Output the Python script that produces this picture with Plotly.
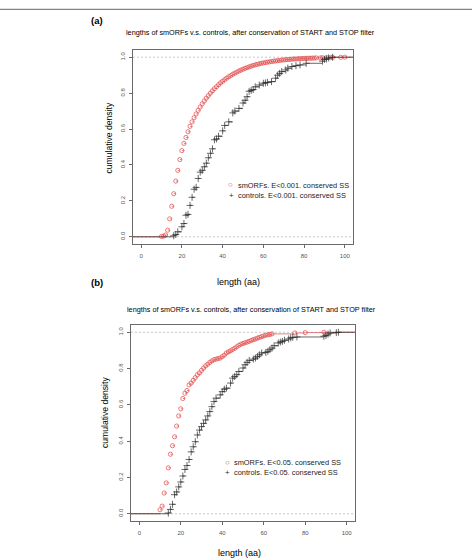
import plotly.graph_objects as go

# ---------------- data ----------------
# Panel (a): E<0.001, conserved START/STOP
sm_a_len = [10, 11, 12, 13, 14, 15, 16, 17, 18, 19, 20, 21, 22, 23, 24, 25, 26, 27, 28, 29,
            30, 31, 32, 33, 34, 35, 36, 37, 38, 39, 40, 41, 42, 43, 44, 45, 46, 47, 48, 49,
            50, 51, 52, 53, 54, 55, 56, 57, 58, 59, 60, 61, 62, 63, 64, 65, 66, 67, 68, 69,
            70, 71, 72, 73, 74, 75, 76, 77, 78, 79, 80, 81, 82, 83, 84, 85, 86, 88, 89, 91,
            93, 94, 98, 100]
sm_a_cdf = [0.002, 0.004, 0.010, 0.037, 0.100, 0.170, 0.240, 0.310, 0.370, 0.430, 0.480, 0.520,
            0.553, 0.585, 0.615, 0.640, 0.663, 0.684, 0.704, 0.723, 0.741, 0.757, 0.772, 0.786,
            0.800, 0.813, 0.825, 0.836, 0.847, 0.857, 0.866, 0.875, 0.883, 0.891, 0.898, 0.905,
            0.911, 0.917, 0.923, 0.928, 0.933, 0.938, 0.942, 0.946, 0.950, 0.954, 0.957, 0.960,
            0.963, 0.966, 0.968, 0.970, 0.972, 0.974, 0.976, 0.978, 0.979, 0.981, 0.982, 0.984,
            0.985, 0.986, 0.987, 0.988, 0.989, 0.990, 0.990, 0.991, 0.992, 0.992, 0.993, 0.993,
            0.994, 0.994, 0.995, 0.995, 0.996, 0.996, 0.997, 0.997, 0.998, 0.999, 0.9995, 1.0]

ct_a_len = [16, 17, 18, 20, 21, 22, 23, 24, 25, 26, 27, 28, 29, 30, 31, 32, 33, 34, 35, 36,
            37, 38, 40, 41, 43, 45, 46, 48, 50, 51, 52, 53, 54, 55, 56, 58, 60, 61, 62, 64,
            66, 67, 68, 69, 71, 72, 74, 76, 78, 81, 89, 90, 91, 92, 94]
ct_a_cdf = [0.006, 0.013, 0.028, 0.056, 0.074, 0.120, 0.125, 0.175, 0.220, 0.265, 0.275, 0.325,
            0.360, 0.370, 0.390, 0.410, 0.440, 0.465, 0.490, 0.540, 0.545, 0.560, 0.590, 0.620,
            0.640, 0.690, 0.700, 0.715, 0.745, 0.760, 0.780, 0.810, 0.815, 0.820, 0.835, 0.845,
            0.855, 0.857, 0.860, 0.864, 0.883, 0.900, 0.910, 0.920, 0.929, 0.939, 0.948, 0.953,
            0.957, 0.966, 0.978, 0.988, 0.990, 0.996, 1.0]

# Panel (b): E<0.05, conserved START/STOP
sm_b_len = [10, 11, 12, 13, 14, 15, 16, 17, 18, 19, 20, 21, 22, 23, 24, 25, 26, 27, 28, 29,
            30, 31, 32, 33, 34, 35, 36, 37, 38, 39, 40, 41, 42, 43, 44, 45, 46, 47, 48, 49,
            50, 51, 52, 53, 54, 55, 56, 57, 58, 59, 60, 61, 62, 63, 64, 75, 80, 89]
sm_b_cdf = [0.022, 0.042, 0.114, 0.170, 0.253, 0.328, 0.375, 0.424, 0.483, 0.539, 0.578, 0.635,
            0.664, 0.679, 0.710, 0.720, 0.735, 0.750, 0.766, 0.776, 0.790, 0.803, 0.815, 0.824,
            0.834, 0.842, 0.849, 0.852, 0.855, 0.858, 0.866, 0.874, 0.886, 0.892, 0.898, 0.905,
            0.912, 0.920, 0.928, 0.934, 0.938, 0.942, 0.946, 0.950, 0.955, 0.959, 0.963, 0.968,
            0.972, 0.976, 0.980, 0.984, 0.986, 0.988, 0.991, 0.996, 0.998, 1.0]

ct_b_len = [14, 15, 16, 17, 18, 19, 20, 21, 22, 23, 24, 25, 26, 27, 28, 29, 30, 31, 32, 33,
            34, 35, 36, 37, 39, 40, 41, 42, 44, 45, 46, 47, 48, 50, 51, 52, 53, 55, 56, 57,
            58, 59, 61, 62, 63, 64, 65, 67, 68, 69, 70, 72, 73, 74, 76, 89, 90, 91, 92, 95, 96]
ct_b_cdf = [0.004, 0.024, 0.052, 0.105, 0.120, 0.148, 0.175, 0.208, 0.244, 0.266, 0.299, 0.341,
            0.369, 0.397, 0.434, 0.461, 0.480, 0.498, 0.517, 0.539, 0.563, 0.590, 0.618, 0.637,
            0.655, 0.673, 0.686, 0.692, 0.720, 0.747, 0.756, 0.766, 0.784, 0.803, 0.821, 0.834,
            0.845, 0.852, 0.858, 0.867, 0.876, 0.886, 0.889, 0.895, 0.904, 0.913, 0.926, 0.941,
            0.946, 0.950, 0.956, 0.963, 0.969, 0.972, 0.974, 0.978, 0.982, 0.990, 0.996, 0.998, 1.0]

x_ticks = [0, 20, 40, 60, 80, 100]
y_ticks = [0.0, 0.2, 0.4, 0.6, 0.8, 1.0]
y_tick_text = ["0.0", "0.2", "0.4", "0.6", "0.8", "1.0"]

title_text = "lengths of smORFs v.s. controls, after conservation of START and STOP filter"
legend_a = ["smORFs. E<0.001. conserved SS", "controls. E<0.001. conserved SS"]
legend_b = ["smORFs. E<0.05. conserved SS", "controls. E<0.05. conserved SS"]

# ---------------- layout helpers ----------------
W, H = 472, 558
XR = [-4, 104]
YR = [-0.04, 1.04]
RED = "rgb(226,70,70)"
BLK = "rgb(40,40,40)"
FONT = "Liberation Sans, Arial, Helvetica, sans-serif"


def fx(p):
    return p / W


def fy(p):
    return 1 - p / H


def steps(xs, fs):
    sx, sy = [XR[0], xs[0], None], [0, 0, None]
    for i in range(len(xs) - 1):
        sx += [xs[i], xs[i + 1], None]
        sy += [fs[i], fs[i], None]
    sx += [xs[-1], XR[1]]
    sy += [fs[-1], fs[-1]]
    return sx, sy


fig = go.Figure()


def add_panel(xa, ya, sm_len, sm_cdf, ct_len, ct_cdf):
    for lens, cdf, col, sym, size in [(sm_len, sm_cdf, RED, "circle-open", 4.2),
                                     (ct_len, ct_cdf, BLK, "cross-thin-open", 5)]:
        sx, sy = steps(lens, cdf)
        fig.add_trace(go.Scatter(x=sx, y=sy, mode="lines", xaxis=xa, yaxis=ya,
                                 line=dict(color=col, width=0.7), showlegend=False,
                                 hoverinfo="skip"))
        fig.add_trace(go.Scatter(x=lens, y=cdf, mode="markers", xaxis=xa, yaxis=ya,
                                 marker=dict(symbol=sym, size=size, color=col,
                                             line=dict(color=col, width=0.7)),
                                 showlegend=False))


add_panel("x", "y", sm_a_len, sm_a_cdf, ct_a_len, ct_a_cdf)
add_panel("x2", "y2", sm_b_len, sm_b_cdf, ct_b_len, ct_b_cdf)

axis_common = dict(showline=True, mirror=True, linecolor="#6a6a6a", linewidth=1,
                   ticks="outside", ticklen=3, tickcolor="#6a6a6a", tickwidth=1,
                   showgrid=False, zeroline=False,
                   tickfont=dict(size=6, color="#555", family=FONT))

fig.update_layout(
    width=W, height=H, margin=dict(l=0, r=0, t=0, b=0),
    paper_bgcolor="white", plot_bgcolor="white", showlegend=False,
    xaxis=dict(domain=[fx(133), fx(353)], range=XR, tickvals=x_ticks, anchor="y",
               ticklabelstandoff=3, **axis_common),
    yaxis=dict(domain=[fy(244), fy(50)], range=YR, tickvals=y_ticks, ticktext=y_tick_text,
               tickangle=-90, anchor="x", ticklabelstandoff=2, **axis_common),
    xaxis2=dict(domain=[fx(131), fx(355)], range=XR, tickvals=x_ticks, anchor="y2",
                ticklabelstandoff=3, **axis_common),
    yaxis2=dict(domain=[fy(521), fy(325)], range=YR, tickvals=y_ticks, ticktext=y_tick_text,
                tickangle=-90, anchor="x2", ticklabelstandoff=2, **axis_common),
)

shapes = [dict(type="line", xref="paper", yref="paper", x0=0, x1=1, y0=fy(9.3), y1=fy(9.3),
               line=dict(color="#666", width=1))]
for xr, yr in [("x domain", "y"), ("x2 domain", "y2")]:
    for yv in [0, 1]:
        shapes.append(dict(type="line", xref=xr, yref=yr, x0=0, x1=1, y0=yv, y1=yv,
                           line=dict(color="#bdbdbd", width=0.8, dash="2px,2px"), layer="below"))
fig.update_layout(shapes=shapes)

ann = []


def text(x, y, s, size, color="black", bold=False, angle=0, xanchor="center"):
    ann.append(dict(x=fx(x), y=fy(y), xref="paper", yref="paper", text=(f"<b>{s}</b>" if bold else s),
                    showarrow=False, xanchor=xanchor, yanchor="middle", textangle=angle,
                    font=dict(size=size, color=color, family=FONT)))


# panel (a)
text(97, 20, "(a)", 9.5, bold=True)
text(250.5, 33, title_text, 7.25)
text(108.5, 138, "cumulative density", 8.6, angle=-90)
text(238, 281.5, "length (aa)", 9)
text(230.7, 184.5, "○", 8, color=RED)
text(235.7, 185, legend_a[0], 7.4, color="#222", xanchor="left")
text(231.3, 195, "+", 8, color=BLK)
text(235.7, 195.5, legend_a[1], 7.4, color="#222", xanchor="left")

# panel (b)
text(96.5, 282, "(b)", 9.5, bold=True)
text(251.8, 309, title_text, 7.25)
text(105, 413, "cumulative density", 8.6, angle=-90)
text(239, 553, "length (aa)", 9)
text(227.3, 462, "○", 8, color=RED)
text(231.7, 462.5, legend_b[0], 7.4, color="#222", xanchor="left")
text(227.3, 472, "+", 8, color=BLK)
text(231.7, 472.5, legend_b[1], 7.4, color="#222", xanchor="left")

fig.update_layout(annotations=ann)

fig.write_html("out.html")
